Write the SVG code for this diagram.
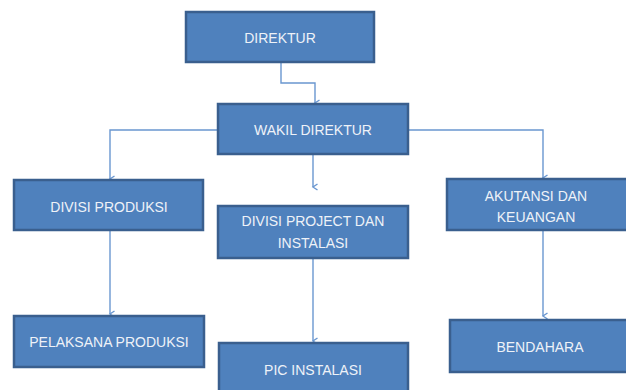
<svg xmlns="http://www.w3.org/2000/svg" width="626" height="390" viewBox="0 0 626 390">
<defs>
<marker id="arr" markerWidth="10" markerHeight="10" refX="5" refY="8" orient="auto" markerUnits="userSpaceOnUse" viewBox="0 0 10 10">
<path d="M2,3.5 L5,8 L8,3.5" fill="none" stroke="#6A97D0" stroke-width="1.4"/>
</marker>
</defs>
<style>
.box{fill:#4F81BD;stroke:#3A5F8E;stroke-width:2.5}
.lbl{font-family:"Liberation Sans",Arial,sans-serif;font-size:14px;fill:#EEF2F8;text-anchor:middle;dominant-baseline:central}
.con{fill:none;stroke:#6A97D0;stroke-width:1.4;marker-end:url(#arr)}
</style>
<rect width="626" height="390" fill="#FFFFFF"/>
<g id="connectors">
<path class="con" d="M281,62 V83 H315 V103"/>
<path class="con" d="M218,130 H110 V179"/>
<path class="con" d="M313,154 V187"/>
<path class="con" d="M408,130 H543 V178"/>
<path class="con" d="M110,230 V314"/>
<path class="con" d="M313,258 V341"/>
<path class="con" d="M543,230 V316"/>
</g>
<g id="direktur"><rect class="box" x="186" y="12" width="188" height="50"/><text class="lbl" x="280" y="38">DIREKTUR</text></g>
<g id="wakil-direktur"><rect class="box" x="218" y="104" width="190" height="50"/><text class="lbl" x="313" y="130">WAKIL DIREKTUR</text></g>
<g id="divisi-produksi"><rect class="box" x="14" y="180" width="189" height="50"/><text class="lbl" x="109" y="207">DIVISI PRODUKSI</text></g>
<g id="divisi-project"><rect class="box" x="218" y="206" width="190" height="52"/><text class="lbl" x="313" y="221">DIVISI PROJECT DAN</text><text class="lbl" x="313" y="243">INSTALASI</text></g>
<g id="akutansi"><rect class="box" x="447" y="179" width="182" height="51"/><text class="lbl" x="536" y="196">AKUTANSI DAN</text><text class="lbl" x="536" y="217">KEUANGAN</text></g>
<g id="pelaksana-produksi"><rect class="box" x="14" y="316" width="190" height="51"/><text class="lbl" x="109" y="342">PELAKSANA PRODUKSI</text></g>
<g id="pic-instalasi"><rect class="box" x="219" y="343" width="189" height="52"/><text class="lbl" x="313" y="370">PIC INSTALASI</text></g>
<g id="bendahara"><rect class="box" x="450" y="320" width="179" height="52"/><text class="lbl" x="540" y="347">BENDAHARA</text></g>
</svg>
